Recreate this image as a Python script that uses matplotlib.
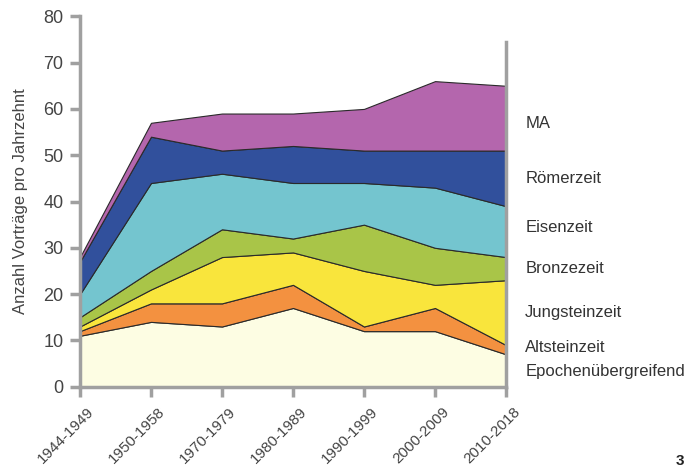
import matplotlib
matplotlib.use("Agg")
import matplotlib.pyplot as plt
import matplotlib.transforms as mtransforms
import numpy as np

plt.rcParams["font.family"] = ["Liberation Sans", "DejaVu Sans"]

# Zeitraeume (x-Kategorien)
decades = ["1944-1949", "1950-1958", "1970-1979", "1980-1989",
           "1990-1999", "2000-2009", "2010-2018"]

# Anzahl Vortraege je Epoche (gestapelt von unten nach oben)
epochenuebergreifend = [11, 14, 13, 17, 12, 12, 7]
altsteinzeit = [1, 4, 5, 5, 1, 5, 2]
jungsteinzeit = [1, 3, 10, 7, 12, 5, 14]
bronzezeit = [2, 4, 6, 3, 10, 8, 5]
eisenzeit = [5, 19, 12, 12, 9, 13, 11]
roemerzeit = [7, 10, 5, 8, 7, 8, 12]
mittelalter = [1, 3, 8, 7, 9, 15, 14]

series_labels = ["Epochenübergreifend", "Altsteinzeit", "Jungsteinzeit",
                 "Bronzezeit", "Eisenzeit", "Römerzeit", "MA"]
series_colors = ["#fdfde3", "#f39140", "#f9e53c", "#a9c548",
                 "#74c5cf", "#31509c", "#b466ad"]

y_ticks = [0, 10, 20, 30, 40, 50, 60, 70, 80]

series = [epochenuebergreifend, altsteinzeit, jungsteinzeit, bronzezeit,
          eisenzeit, roemerzeit, mittelalter]

fig = plt.figure(figsize=(6.86, 4.69), dpi=100)
ax = fig.add_axes([0.1166, 0.1755, 0.621, 0.7897])

x = np.arange(len(decades))
ax.stackplot(x, *series, colors=series_colors, edgecolor="#2a2a2a",
             linewidth=0.8, zorder=2)

ax.set_xlim(0, len(decades) - 1)
ax.set_ylim(0, 80)

axis_grey = "#a0a0a0"
text_grey = "#444444"
for side in ["top", "right"]:
    ax.spines[side].set_visible(False)
for side in ["left", "bottom"]:
    ax.spines[side].set_color(axis_grey)
    ax.spines[side].set_linewidth(2.5)
    ax.spines[side].set_zorder(3)

ax.set_yticks(y_ticks)
ax.set_yticklabels([str(t) for t in y_ticks], fontsize=13, color=text_grey)
ax.set_xticks(x)
ax.set_xticklabels(decades, rotation=45, ha="right", rotation_mode="anchor",
                   fontsize=11, color=text_grey)
ax.tick_params(axis="both", color=axis_grey, width=2.5, length=7)
ax.tick_params(axis="y", pad=5)
ax.tick_params(axis="x", pad=6)

# Datumslabels leicht nach rechts versetzt wie im Original
shift = mtransforms.ScaledTranslation(5 / 72, 0, fig.dpi_scale_trans)
for lab in ax.get_xticklabels():
    lab.set_transform(lab.get_transform() + shift)

ax.set_ylabel("Anzahl Vorträge pro Jahrzehnt", fontsize=12, color=text_grey,
              labelpad=11)

# rechte Begrenzungslinie
ax.axvline(x[-1], ymin=0, ymax=0.93, color=axis_grey, linewidth=2.5,
           zorder=3, clip_on=False)

# Beschriftungen rechts neben dem letzten Zeitraum
last = np.array([s[-1] for s in series], dtype=float)
tops = np.cumsum(last)
mids = tops - last / 2
label_y = list(mids)
label_y[1] = mids[1] + 0.4
label_y[0] = label_y[1] - 5.2
label_y[4] = mids[4] + 0.8
label_y[6] = mids[6] - 1.2
for lbl, yv in zip(series_labels, label_y):
    ax.text(x[-1] + 0.27, yv, lbl, fontsize=12, color="#333333",
            va="center", ha="left", clip_on=False)

fig.text(0.985, 0.003, "3", fontsize=11, fontweight="bold", color="#222222",
         ha="left", va="bottom")

fig.savefig("out.png", dpi=100)
